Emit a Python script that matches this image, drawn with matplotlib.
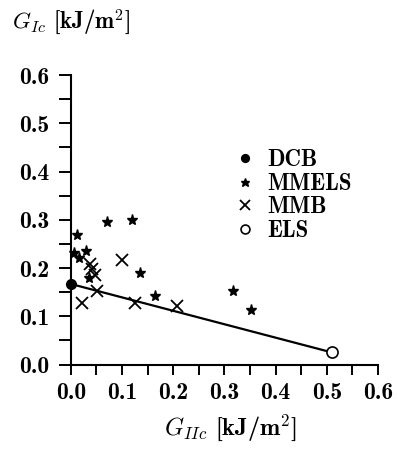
import matplotlib
matplotlib.use("Agg")
import matplotlib.pyplot as plt
from matplotlib.ticker import MultipleLocator, FormatStrFormatter

plt.rcParams['font.family'] = ['cmb10', 'DejaVu Serif']
plt.rcParams['mathtext.fontset'] = 'cm'
plt.rcParams['axes.formatter.use_mathtext'] = True

# Data (G_IIc, G_Ic) in kJ/m^2
dcb_x = [0.0]
dcb_y = [0.167]
mmels_x = [0.012, 0.006, 0.016, 0.030, 0.036, 0.135, 0.070, 0.120, 0.165, 0.317, 0.352]
mmels_y = [0.268, 0.232, 0.221, 0.236, 0.180, 0.190, 0.295, 0.300, 0.143, 0.152, 0.113]
mmb_x = [0.038, 0.042, 0.048, 0.100, 0.052, 0.022, 0.125, 0.208]
mmb_y = [0.209, 0.197, 0.186, 0.217, 0.152, 0.127, 0.127, 0.121]
els_x = [0.51]
els_y = [0.025]
line_x = [0.0, 0.51]
line_y = [0.167, 0.025]

fig = plt.figure(figsize=(3.98, 4.5), dpi=100)
ax = fig.add_axes([0.178, 0.19, 0.772, 0.643])

ax.plot(line_x, line_y, color='black', lw=1.6, zorder=2)
ax.plot(dcb_x, dcb_y, 'o', color='black', ms=7, ls='none', label='DCB', clip_on=False, zorder=3)
ax.plot(mmels_x, mmels_y, '*', color='black', ms=8, ls='none', label='MMELS', clip_on=False, zorder=3)
ax.plot(mmb_x, mmb_y, 'x', color='black', ms=9, mew=1.3, ls='none', label='MMB', clip_on=False, zorder=3)
ax.plot(els_x, els_y, 'o', mfc='white', mec='black', ms=8, mew=1.2, ls='none', label='ELS', clip_on=False, zorder=4)

ax.set_xlim(0, 0.6)
ax.set_ylim(0, 0.6)
for s in ['top', 'right']:
    ax.spines[s].set_visible(False)
for s in ['left', 'bottom']:
    ax.spines[s].set_linewidth(1.5)

ax.xaxis.set_major_locator(MultipleLocator(0.1))
ax.xaxis.set_minor_locator(MultipleLocator(0.05))
ax.yaxis.set_major_locator(MultipleLocator(0.1))
ax.yaxis.set_minor_locator(MultipleLocator(0.05))
ax.xaxis.set_major_formatter(FormatStrFormatter('%.1f'))
ax.yaxis.set_major_formatter(FormatStrFormatter('%.1f'))
ax.tick_params(which='both', direction='out', width=1.4, labelsize=17)
ax.tick_params(axis='x', which='both', length=7.5, pad=5)
ax.tick_params(axis='y', which='both', length=8.5, pad=7)

fig.text(0.03, 0.95, r'$G_{Ic}$ [kJ/m$^2$]', fontsize=16.5, ha='left', va='center')
fig.text(0.578, 0.05, r'$G_{IIc}$ [kJ/m$^2$]', fontsize=17.5, ha='center', va='center')

leg = fig.legend(loc='upper left', bbox_to_anchor=(0.59, 0.668), frameon=False,
                 fontsize=16.5, handletextpad=0.5, labelspacing=0.06, handlelength=0.9,
                 borderpad=0, borderaxespad=0, markerscale=0.8)

fig.savefig('out.png', dpi=100)
